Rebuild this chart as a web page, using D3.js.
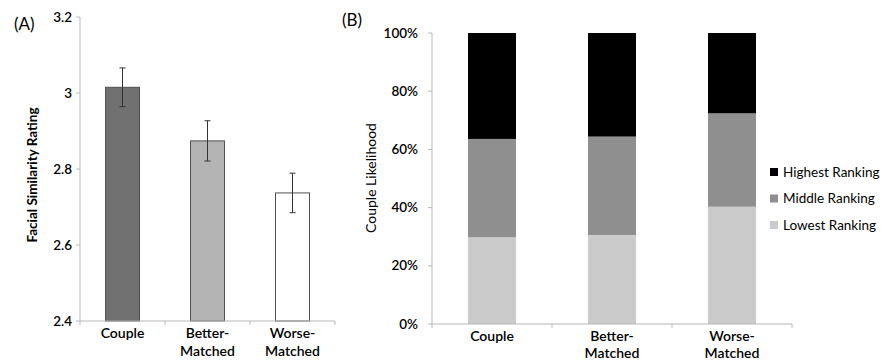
<!DOCTYPE html>
<html><head><meta charset="utf-8">
<script src="https://cdn.jsdelivr.net/npm/d3@7"></script>
<style>body{margin:0;background:#fff}svg text{font-family:Lato,"Open Sans",sans-serif;fill:#000}</style>
</head><body><svg id="c" width="886" height="362"></svg>
<script>
const categories = [["Couple"], ["Better-","Matched"], ["Worse-","Matched"]];
const catKeys = ["Couple","Better-Matched","Worse-Matched"];
const ratingMeans = [3.015, 2.874, 2.737];
const ratingErrors = [0.051, 0.053, 0.052];
const ratingTicks = [2.4, 2.6, 2.8, 3.0, 3.2];
const lowestRanking = [29.8, 30.6, 40.3];
const middleRanking = [33.8, 33.8, 32.1];
const highestRanking = [36.4, 35.6, 27.6];
const pctTicks = [0, 20, 40, 60, 80, 100];
const seriesNames = ["Highest Ranking","Middle Ranking","Lowest Ranking"];

const svg = d3.select("#c");
const axisCol = "#b8b8b8";

// Panel A
const xA = d3.scaleBand().domain(catKeys).range([80, 335]).paddingInner(0).paddingOuter(0);
const yA = d3.scaleLinear().domain([2.4, 3.2]).range([321, 17]);
const gA = svg.append("g");
const barFill = ["#717171", "#b4b4b4", "#ffffff"];
const bw = 34;
gA.selectAll("rect.bar").data(catKeys).join("rect")
  .attr("x", d => xA(d) + xA.bandwidth()/2 - bw/2)
  .attr("y", (d,i) => yA(ratingMeans[i]))
  .attr("width", bw)
  .attr("height", (d,i) => yA(2.4) - yA(ratingMeans[i]))
  .attr("fill", (d,i) => barFill[i])
  .attr("stroke", "#505050").attr("stroke-width", 1);
catKeys.forEach((d,i) => {
  const cx = xA(d) + xA.bandwidth()/2;
  const t = yA(ratingMeans[i] + ratingErrors[i]), b = yA(ratingMeans[i] - ratingErrors[i]);
  gA.append("line").attr("x1", cx).attr("x2", cx).attr("y1", t).attr("y2", b).attr("stroke", "#333");
  gA.append("line").attr("x1", cx-3).attr("x2", cx+3).attr("y1", t).attr("y2", t).attr("stroke", "#333");
  gA.append("line").attr("x1", cx-3).attr("x2", cx+3).attr("y1", b).attr("y2", b).attr("stroke", "#333");
});
// y axis A
gA.append("line").attr("x1", 80).attr("x2", 80).attr("y1", yA(3.2)).attr("y2", yA(2.4)).attr("stroke", axisCol);
ratingTicks.forEach(v => {
  gA.append("line").attr("x1", 76).attr("x2", 80).attr("y1", yA(v)).attr("y2", yA(v)).attr("stroke", axisCol);
  gA.append("text").attr("x", 72).attr("y", yA(v) + 4.5).attr("text-anchor", "end")
    .attr("font-size", 13.5).attr("font-weight", 600).text(v === 3 ? "3" : d3.format(".1f")(v));
});
// x axis A
gA.append("line").attr("x1", 80).attr("x2", 335).attr("y1", 321).attr("y2", 321).attr("stroke", axisCol);
[0,1,2,3].forEach(i => {
  const x = 80 + i * xA.bandwidth();
  gA.append("line").attr("x1", x).attr("x2", x).attr("y1", 321).attr("y2", 325).attr("stroke", axisCol);
});
catKeys.forEach((d,i) => {
  const cx = xA(d) + xA.bandwidth()/2;
  categories[i].forEach((ln, j) => {
    gA.append("text").attr("x", cx).attr("y", 338 + j*18).attr("text-anchor", "middle")
      .attr("font-size", 14).attr("font-weight", 600).text(ln);
  });
});
gA.append("text").attr("transform", "translate(37,175) rotate(-90)").attr("text-anchor", "middle")
  .attr("font-size", 13.5).attr("font-weight", 700).text("Facial Similarity Rating");
gA.append("text").attr("x", 14).attr("y", 30).attr("font-size", 17).text("(A)");

// Panel B
const xB = d3.scaleBand().domain(catKeys).range([432, 792]);
const yB = d3.scaleLinear().domain([0, 100]).range([324, 33]);
const gB = svg.append("g");
const rows = catKeys.map((k,i) => ({key:k, "Lowest Ranking": lowestRanking[i], "Middle Ranking": middleRanking[i], "Highest Ranking": highestRanking[i]}));
const stack = d3.stack().keys(["Lowest Ranking","Middle Ranking","Highest Ranking"])(rows);
const colB = {"Lowest Ranking":"#cbcbcb","Middle Ranking":"#8f8f8f","Highest Ranking":"#000000"};
const bwB = 48;
stack.forEach(s => {
  gB.selectAll(null).data(s).join("rect")
    .attr("x", d => xB(d.data.key) + xB.bandwidth()/2 - bwB/2)
    .attr("y", d => yB(d[1]))
    .attr("width", bwB)
    .attr("height", d => yB(d[0]) - yB(d[1]))
    .attr("fill", colB[s.key]);
});
gB.append("line").attr("x1", 432).attr("x2", 432).attr("y1", yB(100)).attr("y2", yB(0)).attr("stroke", axisCol);
pctTicks.forEach(v => {
  gB.append("line").attr("x1", 428).attr("x2", 432).attr("y1", yB(v)).attr("y2", yB(v)).attr("stroke", axisCol);
  gB.append("text").attr("x", 418).attr("y", yB(v) + 4.5).attr("text-anchor", "end")
    .attr("font-size", 13.5).attr("font-weight", 600).text(v + "%");
});
gB.append("line").attr("x1", 432).attr("x2", 792).attr("y1", 324).attr("y2", 324).attr("stroke", axisCol);
[0,1,2,3].forEach(i => {
  const x = 432 + i * xB.bandwidth();
  gB.append("line").attr("x1", x).attr("x2", x).attr("y1", 324).attr("y2", 328).attr("stroke", axisCol);
});
catKeys.forEach((d,i) => {
  const cx = xB(d) + xB.bandwidth()/2;
  categories[i].forEach((ln, j) => {
    gB.append("text").attr("x", cx).attr("y", 341 + j*17).attr("text-anchor", "middle")
      .attr("font-size", 14).attr("font-weight", 600).text(ln);
  });
});
gB.append("text").attr("transform", "translate(376,178) rotate(-90)").attr("text-anchor", "middle")
  .attr("font-size", 14).text("Couple Likelihood");
gB.append("text").attr("x", 342).attr("y", 26).attr("font-size", 17).text("(B)");
// legend
seriesNames.forEach((n,i) => {
  const y = 172 + i * 26.5;
  gB.append("rect").attr("x", 770).attr("y", y - 4).attr("width", 8).attr("height", 8).attr("fill", colB[n]);
  gB.append("text").attr("x", 783).attr("y", y + 4.5).attr("font-size", 13.5).text(n);
});
</script></body></html>
